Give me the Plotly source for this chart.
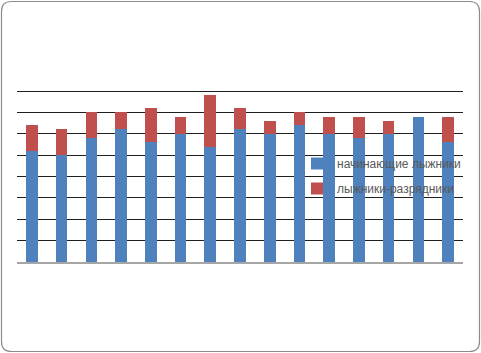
import plotly.graph_objects as go

categories = [str(i) for i in range(1, 16)]
beginners = [26, 25, 29, 31, 28, 30, 27, 31, 30, 32, 30, 29, 30, 34, 28]
ranked = [6, 6, 6, 4, 8, 4, 12, 5, 3, 3, 4, 5, 3, 0, 6]
series_names = ["начинающие лыжники", "лыжники-разрядники"]

W, H = 481, 353
L, R, T, B = 17, 18, 89, 91
y_top = 40 + 2 / (170.7 / 40)  # small headroom so the top gridline is drawn

fig = go.Figure()
fig.add_bar(x=categories, y=beginners, name=series_names[0],
            marker=dict(color="#4F81BD", line=dict(width=0)), legendgroup="a")
fig.add_bar(x=categories, y=ranked, name=series_names[1],
            marker=dict(color="#C0504D", line=dict(width=0)), legendgroup="b")

pw, ph = W - L - R, H - T - B
def px(x):
    return (x - L) / pw
def py(y):
    return (H - B - y) / ph

# rounded outer border
x0, x1, y0, y1, r = 1.5, 479.5, 1.5, 351.5, 10
path = (f"M {px(x0 + r)},{py(y0)} L {px(x1 - r)},{py(y0)} "
        f"Q {px(x1)},{py(y0)} {px(x1)},{py(y0 + r)} "
        f"L {px(x1)},{py(y1 - r)} Q {px(x1)},{py(y1)} {px(x1 - r)},{py(y1)} "
        f"L {px(x0 + r)},{py(y1)} Q {px(x0)},{py(y1)} {px(x0)},{py(y1 - r)} "
        f"L {px(x0)},{py(y0 + r)} Q {px(x0)},{py(y0)} {px(x0 + r)},{py(y0)} Z")
fig.add_shape(type="path", path=path, xref="paper", yref="paper",
              line=dict(color="#8c8c8c", width=1.2), layer="above")

fig.update_layout(
    width=W, height=H, autosize=False,
    margin=dict(l=L, r=R, t=T, b=B),
    barmode="stack", bargap=0.61,
    paper_bgcolor="white", plot_bgcolor="white",
    showlegend=True,
    legend=dict(x=px(297), y=py(149), xanchor="left", yanchor="top",
                font=dict(family="Liberation Sans, Arial, sans-serif", size=12, color="#595959"),
                bgcolor="rgba(0,0,0,0)", traceorder="grouped", tracegroupgap=6),
    xaxis=dict(showticklabels=False, ticks="", showgrid=False, showline=True,
               linecolor="#a6a6a6", linewidth=1.5, zeroline=False),
    yaxis=dict(range=[0, y_top], dtick=5, showticklabels=False, ticks="",
               showgrid=True, gridcolor="#1f1f1f", gridwidth=1, zeroline=False),
)

fig.write_html("out.html")
